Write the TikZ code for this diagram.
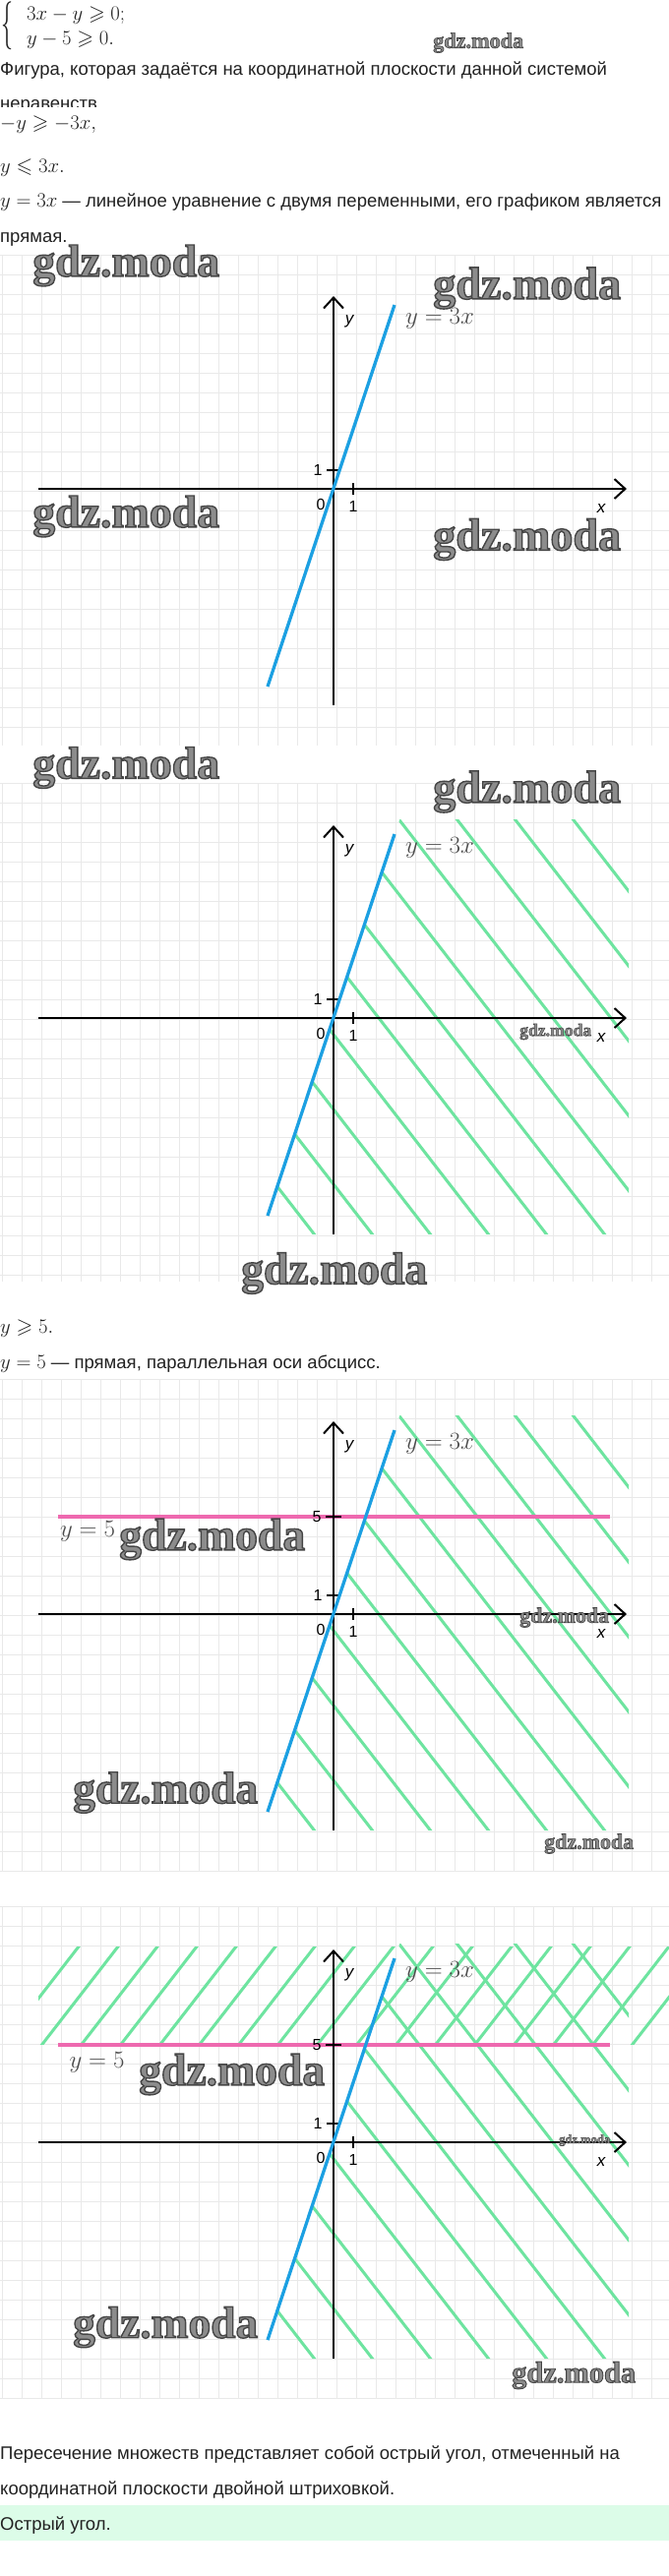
\documentclass[tikz,border=0pt]{standalone}
\usepackage{amsmath,amssymb}
\usepackage{fontspec}
\setmainfont{Liberation Sans}
\newfontfamily\wmfont{Liberation Serif}
\usetikzlibrary{arrows.meta}
\definecolor{gridc}{RGB}{233,233,233}
\definecolor{hatchc}{RGB}{110,228,160}
\definecolor{pinkc}{RGB}{238,105,175}
\definecolor{bluec}{RGB}{28,160,226}
\definecolor{txtc}{RGB}{34,34,34}
\definecolor{wmc}{RGB}{140,140,140}
\definecolor{bandc}{RGB}{220,252,232}
\tikzset{
  gridline/.style={draw=gridc, line width=1pt},
  axisline/.style={draw=black, line width=2pt},
  axisarrow/.style={axisline, -{Straight Barb[length=11pt,width=20pt]}},
  bluestroke/.style={draw=bluec, line width=3.3pt},
  hatchline/.style={draw=hatchc, line width=3pt},
  pinkstroke/.style={draw=pinkc, line width=4pt},
  axlabel/.style={inner sep=0, font=\fontsize{16}{16}\selectfont},
  axvar/.style={inner sep=0, font=\fontsize{17}{17}\selectfont\itshape},
  graphmath/.style={inner sep=0, text=gray!60!black, font=\fontsize{24.5}{25}\selectfont},
  body/.style={anchor=base west, inner sep=0, text=txtc, font=\fontsize{18.5}{22}\selectfont},
  wmark/.style={anchor=west, inner sep=0, text=wmc},
}
\newcommand\mymath[1]{{\fontsize{21.5}{25}\selectfont$#1$}}
\newcommand\wmtext{{\special{pdf:literal direct 2 Tr 0.3 w 0.27 G}gdz.moda\special{pdf:literal direct 0 Tr}}}
\newcommand\wm[4]{\node[wmark] (#1) at (#2,#3) {\resizebox{#4pt}{!}{\wmfont\bfseries\wmtext}};}
\newcommand\gridpanel[2]{%
  \begin{scope}
    \clip (0,#1) rectangle (680,#2);
    \foreach \k in {0,...,34} \draw[gridline] ({2+20*\k},#1) -- ({2+20*\k},#2);
    \foreach \k in {0,...,26} \draw[gridline] (0,{#1+20*\k}) -- (680,{#1+20*\k});
  \end{scope}}
\newcommand\hatchA{%
  \begin{scope}
    \clip (-73.33,-220) -- (67.33,202) -- (300,202) -- (300,-220) -- cycle;
    \foreach \c in {-190,-131,-72,-13,46,105,164,223,282,341,400}
      \draw[hatchline] ({\c-160},{1.29*160}) -- ({\c+175},{-1.29*175});
  \end{scope}}
\newcommand\hatchB{%
  \begin{scope}
    \clip (-300,99.3) rectangle (341,199);
    \foreach \k in {0,...,16}
      \draw[hatchline] ({-259+40*\k+5},{199+1.29*5}) -- ({-259+40*\k-85},{199-1.29*85});
  \end{scope}}
\newcommand\axesset[1]{%
  \draw[axisarrow] (-300,0) -- (298,0);
  \draw[axisarrow] (0,-220) -- (0,196);
  \draw[axisline] (20,-6) -- (20,6);
  \draw[axisline] (-7,19.5) -- (7,19.5);
  \node[axlabel] (#1o) at (-13,-16) {0};
  \node[axlabel] (#1xa) at (20,-18) {1};
  \node[axlabel] (#1ya) at (-16,19.5) {1};
  \node[axvar] (#1x) at (272,-20) {x};
  \node[axvar] (#1y) at (16,170) {y};}
\newcommand\bluegraph[1]{%
  \draw[bluestroke] (-67,-201) -- (62,187);
  \node[graphmath] (#1lab) at (108,173) {$y=3x$};}
\newcommand\pinkgraph{%
  \draw[pinkstroke] (-280.5,99.3) -- (281,99.3);}
\newcommand\fivetick[1]{%
  \draw[axisline] (-8,99.3) -- (8,99.3);
  \node[axlabel] (#1five) at (-17,99) {5};}
\begin{document}
\begin{tikzpicture}[x=1pt,y=-1pt]
\useasboundingbox[fill=white] (0,0) rectangle (680,2619);

% ---------- top text ----------
\node[anchor=north west, inner sep=0, text=txtc] (t1b) at (1,1.5) {\resizebox*{12pt}{49pt}{$\{$}};
\node[body] (t1) at (27,20.7) {\mymath{3x-y\geqslant 0;}};
\node[body] (t2) at (27,45) {\mymath{y-5\geqslant 0.}};
\wm{wm0}{440}{43.5}{92}
\node[body] (t3) at (0,76) {Фигура, которая задаётся на координатной плоскости данной системой};
\begin{scope}
  \clip (0,95) rectangle (200,108);
  \node[body] (t4) at (0,111.6) {неравенств};
\end{scope}
\node[body] (t5) at (0,131.7) {\mymath{-y\geqslant -3x,}};
\node[body] (t6) at (0,175) {\mymath{y\leqslant 3x.}};
\node[body] (t7) at (0,210) {\mymath{y=3x} — линейное уравнение с двумя переменными, его графиком является};
\node[body] (t8) at (0,246) {прямая.};

% ---------- panel 1 ----------
\gridpanel{259}{758}
\begin{scope}[shift={(339pt,-497pt)}, x=1pt, y=1pt]
  \axesset{pa}
  \bluegraph{pa}
\end{scope}
\wm{wmA}{33}{270}{190}
\wm{wmB}{440}{293}{191}
\wm{wmC}{33}{525}{190}
\wm{wmD}{440}{548.5}{191}

% ---------- panel 2 ----------
\gridpanel{796}{1303}
\begin{scope}[shift={(339pt,-1035pt)}, x=1pt, y=1pt]
  \hatchA
  \axesset{pb}
  \bluegraph{pb}
\end{scope}
\wm{wmE}{33}{780.5}{190}
\wm{wmF}{440}{805}{191}
\wm{wmG}{528}{1049}{73}
\wm{wmH}{245}{1294.5}{189}

\node[body] (t9) at (0,1355) {\mymath{y\geqslant 5.}};
\node[body] (t10) at (0,1391.5) {\mymath{y=5} — прямая, параллельная оси абсцисс.};

% ---------- panel 3 ----------
\gridpanel{1402}{1903}
\begin{scope}[shift={(339pt,-1641pt)}, x=1pt, y=1pt]
  \hatchA
  \pinkgraph
  \axesset{pc}
  \fivetick{pc}
  \bluegraph{pc}
  \node[graphmath] (pcfl) at (-250,84) {$y=5$};
\end{scope}
\wm{wmI}{121}{1565}{189}
\wm{wmJ}{74}{1822.5}{188}
\wm{wmK}{528}{1644.5}{91}
\wm{wmL}{553}{1874.5}{91}

% ---------- panel 4 ----------
\gridpanel{1938}{2439}
\begin{scope}[shift={(339pt,-2178pt)}, x=1pt, y=1pt]
  \hatchA
  \hatchB
  \pinkgraph
  \axesset{pd}
  \fivetick{pd}
  \bluegraph{pd}
  \node[graphmath] (pdfl) at (-240.5,81) {$y=5$};
\end{scope}
\wm{wmM}{141}{2109}{189}
\wm{wmN}{74}{2366}{188}
\wm{wmO}{568}{2176}{52}
\wm{wmP}{520}{2415}{126}

% ---------- bottom text ----------
\node[body] (t11) at (0,2500.7) {Пересечение множеств представляет собой острый угол, отмеченный на};
\node[body] (t12) at (0,2536.7) {координатной плоскости двойной штриховкой.};
\fill[bandc] (0,2547) rectangle (680,2583);
\node[body] (t13) at (0,2572.7) {Острый угол.};
\end{tikzpicture}
\end{document}
